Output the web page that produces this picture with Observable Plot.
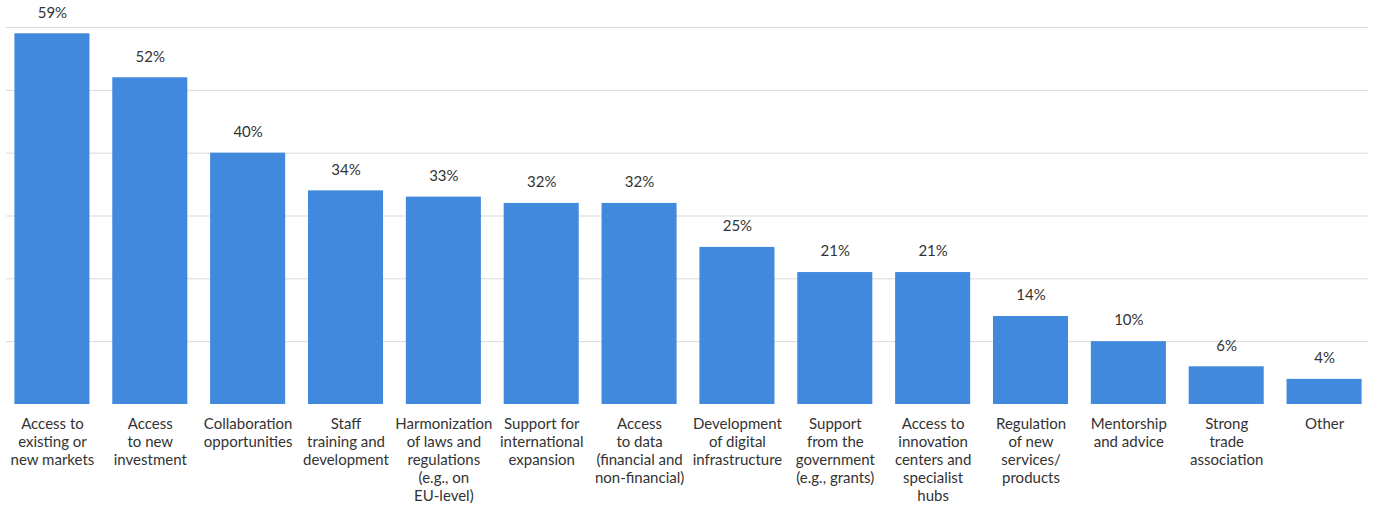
<!DOCTYPE html>
<html>
<head>
<meta charset="utf-8">
<script src="https://cdn.jsdelivr.net/npm/d3@7"></script>
<script src="https://cdn.jsdelivr.net/npm/@observablehq/plot@0.6"></script>
<style>
  html, body { margin: 0; padding: 0; background: #fff; }
  #chart svg { display: block; }
</style>
</head>
<body>
<div id="chart"></div>
<script>
const categories = [
  "Access to\nexisting or\nnew markets",
  "Access\nto new\ninvestment",
  "Collaboration\nopportunities",
  "Staff\ntraining and\ndevelopment",
  "Harmonization\nof laws and\nregulations\n(e.g., on\nEU-level)",
  "Support for\ninternational\nexpansion",
  "Access\nto data\n(financial and\nnon-financial)",
  "Development\nof digital\ninfrastructure",
  "Support\nfrom the\ngovernment\n(e.g., grants)",
  "Access to\ninnovation\ncenters and\nspecialist\nhubs",
  "Regulation\nof new\nservices/\nproducts",
  "Mentorship\nand advice",
  "Strong\ntrade\nassociation",
  "Other"
];
const values = [59, 52, 40, 34, 33, 32, 32, 25, 21, 21, 14, 10, 6, 4];
const gridTicks = [10, 20, 30, 40, 50, 60];

const data = categories.map((c, i) => ({category: c, value: values[i]}));

const chart = Plot.plot({
  width: 1375,
  height: 506,
  marginTop: 27,
  marginBottom: 102,
  marginLeft: 3,
  marginRight: 2,
  style: {fontFamily: "Lato, 'Open Sans', sans-serif", color: "#333", background: "#fff"},
  x: {domain: categories, paddingInner: 0.233, paddingOuter: 0.1165, round: false, label: null},
  y: {domain: [0, 60], label: null, axis: null},
  marks: [
    Plot.ruleY(gridTicks, {stroke: "#d9d9d9", strokeWidth: 1, insetLeft: 3, insetRight: 5}),
    Plot.barY(data, {x: "category", y: "value", fill: "#4189DD"}),
    Plot.text(data, {x: "category", y: "value", text: d => d.value + "%", dy: -21, fontSize: 15, fill: "#333"}),
    Plot.axisX({tickSize: 0, tickPadding: 12, fontSize: 15, lineHeight: 1.2, fill: "#333", label: null})
  ]
});
document.getElementById("chart").appendChild(chart);
</script>
</body>
</html>
